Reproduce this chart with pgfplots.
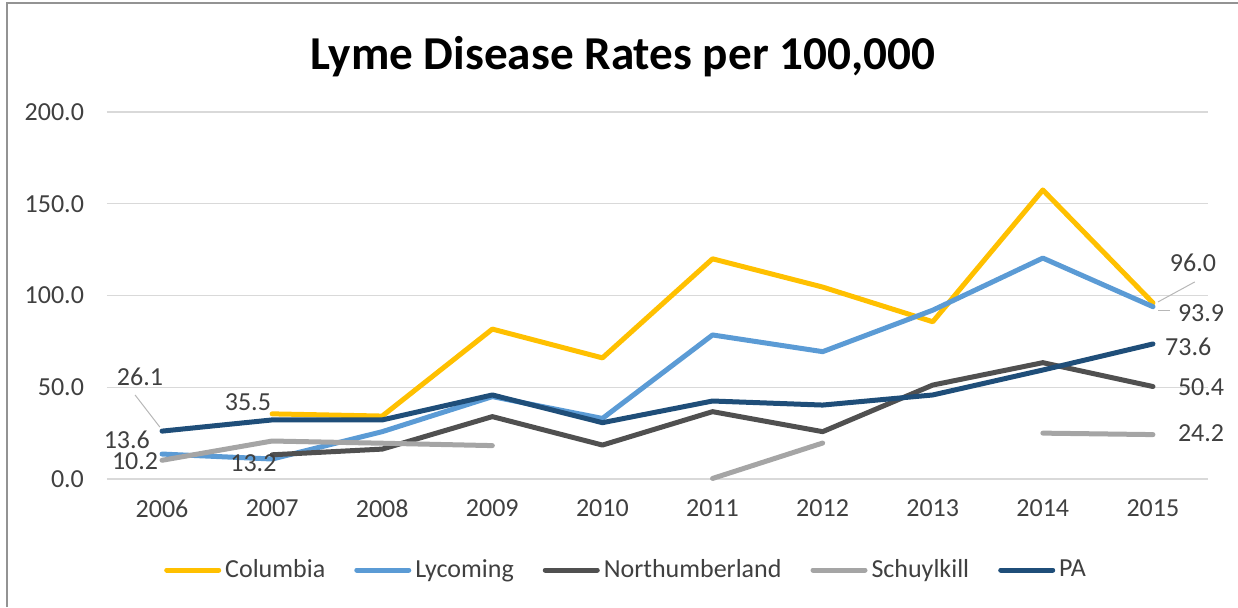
\documentclass[border=0pt]{standalone}
\usepackage{pgfplots}
\pgfplotsset{compat=1.18}
\usepackage{fontspec}
\setmainfont{Carlito}
\definecolor{cCol}{HTML}{FFC000}
\definecolor{cLyc}{HTML}{5B9BD5}
\definecolor{cNor}{HTML}{505050}
\definecolor{cSch}{HTML}{A5A5A5}
\definecolor{cPA}{HTML}{1F4E79}
\definecolor{cTxt}{HTML}{404040}
\definecolor{cGrid}{HTML}{D9D9D9}
\begin{document}
\begin{tikzpicture}
\useasboundingbox (-53.5pt,-64pt) rectangle (565.5pt,239.5pt);
\draw[color=gray!85, line width=1pt] (-50pt,-64pt) -- (-50pt,238pt) -- (565.5pt,238pt);
\node[font=\fontsize{23.6}{28}\selectfont\bfseries, text=black] at (258pt,211pt) {Lyme Disease Rates per 100,000};
\begin{axis}[
  at={(0pt,0pt)}, anchor=south west,
  scale only axis, width=550.5pt, height=183.5pt,
  xmin=2005.5, xmax=2015.5, ymin=0, ymax=200,
  xtick={2006,...,2015},
  ytick={0,50,100,150,200},
  xticklabel style={/pgf/number format/1000 sep=, yshift=-7pt},
  yticklabel style={/pgf/number format/fixed, /pgf/number format/fixed zerofill, /pgf/number format/precision=1, xshift=-8pt},
  /pgf/number format/assume math mode=true,
  tick label style={font=\fontsize{13}{15}\selectfont, text=cTxt},
  axis line style={draw=none},
  major tick length=0pt,
  ymajorgrids, grid style={cGrid, line width=0.6pt},
  clip=false,
  unbounded coords=jump,
  every axis plot/.append style={line width=2.5pt, line cap=round, line join=round},
  legend columns=5,
  legend style={at={(0.4723,-0.248)}, anchor=center, draw=none, fill=none,
    font=\fontsize{13}{15}\selectfont, text=cTxt,
    /tikz/every even column/.append style={column sep=12.5pt}},
  legend image code/.code={\draw[#1] (0pt,0pt) -- (26pt,0pt);},
]
\addplot[cCol] coordinates {(2007,35.5) (2008,34.3) (2009,81.7) (2010,66.0) (2011,120.0) (2012,104.6) (2013,85.7) (2014,157.5) (2015,96.0)};
\addlegendentry{Columbia}
\addplot[cLyc] coordinates {(2006,13.6) (2007,10.9) (2008,25.8) (2009,44.9) (2010,33.0) (2011,78.5) (2012,69.4) (2013,92.0) (2014,120.4) (2015,93.9)};
\addlegendentry{Lycoming}
\addplot[cNor] coordinates {(2007,13.2) (2008,16.3) (2009,34.0) (2010,18.5) (2011,36.7) (2012,25.8) (2013,51.2) (2014,63.4) (2015,50.4)};
\addlegendentry{Northumberland}
\addplot[cSch] coordinates {(2006,10.2) (2007,20.7) (2008,19.5) (2009,18.2) (2010,nan) (2011,0.3) (2012,19.6) (2013,nan) (2014,25.0) (2015,24.2)};
\addlegendentry{Schuylkill}
\addplot[cPA] coordinates {(2006,26.1) (2007,32.2) (2008,32.2) (2009,45.8) (2010,30.7) (2011,42.5) (2012,40.3) (2013,45.8) (2014,59.4) (2015,73.6)};
\addlegendentry{PA}
% data labels
\begin{scope}[every node/.style={font=\fontsize{13}{15}\selectfont, text=cTxt, inner sep=0pt}]
\node at (axis cs:2005.80,55.6) {26.1};
\node at (axis cs:2005.68,21.2) {13.6};
\node at (axis cs:2005.755,9.6) {10.2};
\node at (axis cs:2006.78,42.0) {35.5};
\node at (axis cs:2006.83,8.7) {13.2};
\node at (axis cs:2015.364,117.7) {96.0};
\node at (axis cs:2015.437,90.5) {93.9};
\node at (axis cs:2015.32,71.9) {73.6};
\node at (axis cs:2015.437,50.1) {50.4};
\node at (axis cs:2015.437,25.1) {24.2};
\end{scope}
\draw[cSch!80, line width=0.5pt] (axis cs:2005.755,45.8) -- (axis cs:2005.98,28.3);
\draw[cSch!80, line width=0.5pt] (axis cs:2015.046,96.5) -- (axis cs:2015.38,107.4);
\draw[cSch!80, line width=0.5pt] (axis cs:2015.046,92.1) -- (axis cs:2015.155,92.1);
\end{axis}
\end{tikzpicture}
\end{document}
